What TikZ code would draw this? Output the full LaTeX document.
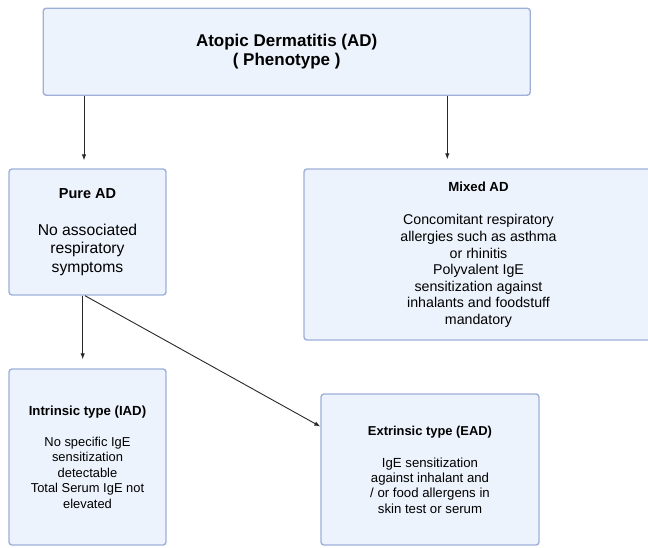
\documentclass[tikz,border=0pt]{standalone}
\usepackage{fontspec}
\setmainfont{Liberation Sans}
\usetikzlibrary{arrows.meta}
\definecolor{boxfill}{RGB}{237,243,252}
\definecolor{boxline}{RGB}{158,176,218}
\definecolor{arrowcol}{RGB}{40,40,40}
\tikzset{x=1pt, y=-1pt,
  phenobox/.style={draw=boxline, fill=boxfill, line width=1.4pt,
    rounded corners=3pt, inner sep=0pt, align=center},
  link/.style={->, draw=arrowcol, line width=0.9pt},
  >={Latex[length=6pt,width=4.5pt]}}

\begin{document}
\begin{tikzpicture}

  \clip (0,0) rectangle (648,547);
  \fill[white] (0,0) rectangle (648,547);

  % boxes
  \node[phenobox, minimum width=487pt, minimum height=87pt,
        font=\bfseries\fontsize{17}{19}\selectfont] (phen) at (286.7,51.7)
        {Atopic Dermatitis (AD)\\( Phenotype )};

  \node[phenobox, minimum width=157pt, minimum height=126pt,
        font=\fontsize{15.7}{18.5}\selectfont] (pure) at (87.5,232)
        {{\bfseries\fontsize{14.5}{17}\selectfont Pure AD}\\[18pt]
         No associated\\respiratory\\symptoms};

  \node[phenobox, minimum width=356pt, minimum height=171pt,
        font=\fontsize{14.2}{16.6}\selectfont] (mixed) at (482,254.5)
        {\hspace*{-7pt}{\bfseries\fontsize{13.2}{16}\selectfont Mixed AD}\\[17pt]
         \hspace*{-7pt}Concomitant respiratory\\\hspace*{-7pt}allergies such as asthma\\
         \hspace*{-7pt}or rhinitis\\\hspace*{-7pt}Polyvalent IgE\\
         \hspace*{-7pt}sensitization against\\\hspace*{-7pt}inhalants and foodstuff\\
         \hspace*{-7pt}mandatory};

  \node[phenobox, minimum width=157pt, minimum height=176pt,
        font=\fontsize{12.9}{15.4}\selectfont] (intr) at (87.5,457)
        {{\bfseries\fontsize{13.2}{16}\selectfont Intrinsic type (IAD)}\\[15.6pt]
         No specific IgE\\sensitization\\detectable\\
         Total Serum IgE not\\elevated};

  \node[phenobox, minimum width=218pt, minimum height=151pt,
        font=\fontsize{13.2}{15.3}\selectfont] (ext) at (430,469.5)
        {{\bfseries\fontsize{12.9}{16}\selectfont Extrinsic type (EAD)}\\[16.7pt]
         IgE sensitization\\against inhalant and\\
         / or food allergens in\\skin test or serum};

  % connectors
  \draw[link, shorten >=8pt] ([xshift=-3.5pt]pure.north |- phen.south) -- ([xshift=-3.5pt]pure.north);
  \draw[link, shorten >=9pt] ([xshift=144pt]mixed.north west |- phen.south) -- ([xshift=144pt]mixed.north west);
  \draw[link, shorten >=9pt] ([xshift=-4.8pt]pure.south) -- ([xshift=-4.8pt]intr.north);
  \draw[link] ([xshift=-2.5pt]pure.south) -- ([yshift=43pt]ext.west);

\end{tikzpicture}
\end{document}
